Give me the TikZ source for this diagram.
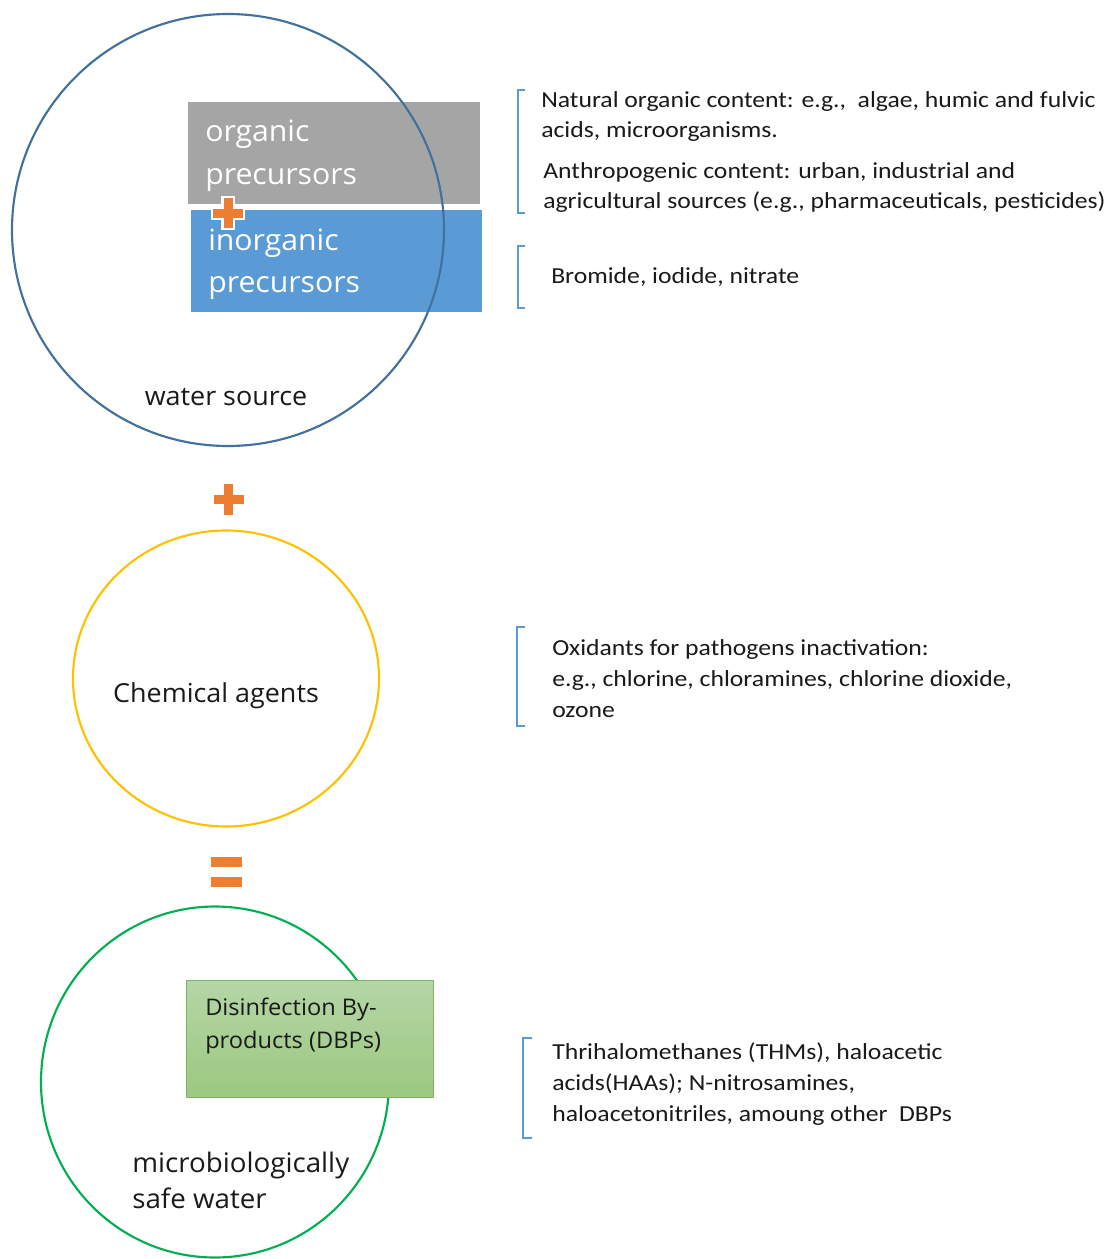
\documentclass[tikz,border=0pt]{standalone}
\usepackage{fontspec}
\usetikzlibrary{calc,shapes.geometric}
\setmainfont{Carlito}[FakeStretch=1.12]
\newfontfamily\seg{Open Sans}[FakeStretch=1.03]
\definecolor{cblue}{HTML}{41719C}
\definecolor{cgold}{HTML}{FFC000}
\definecolor{cgreen}{HTML}{00B050}
\definecolor{boxgray}{HTML}{A5A5A5}
\definecolor{boxblue}{HTML}{5B9BD5}
\definecolor{corange}{HTML}{ED7D31}
\definecolor{brk}{HTML}{5B9BD5}
\definecolor{gtop}{HTML}{B4D6A6}
\definecolor{gbot}{HTML}{9CC87F}
\definecolor{gborder}{HTML}{7EB462}
\definecolor{txt}{HTML}{1A1A1A}
\begin{document}
\begin{tikzpicture}[x=0.75pt,y=-0.75pt,
  rtext/.style={anchor=base west,inner sep=0pt,text=txt,font=\fontsize{17.2}{20}\selectfont},
  ctext/.style={anchor=base,inner sep=0pt,text=txt,font=\seg\fontsize{19.6}{23}\selectfont},
  btext/.style={anchor=base west,inner sep=0pt,text=white,font=\seg\fontsize{22}{25}\selectfont},
  dtext/.style={anchor=base west,inner sep=0pt,text=txt,font=\seg\fontsize{17.2}{20}\selectfont},
  bracket/.style={draw=brk,line width=0.9pt},
  ring/.style={line width=1.6pt}]
\path[use as bounding box,fill=white] (0,0) rectangle (1112,1259);

% boxes in water source
\node[fill=boxgray,minimum width=292*0.75pt,minimum height=102*0.75pt,inner sep=0pt,anchor=north west] (org) at (188,102) {};
\node[fill=boxblue,minimum width=291*0.75pt,minimum height=102*0.75pt,inner sep=0pt,anchor=north west] (inorg) at (191,210) {};
\node[btext] (org1) at (205,142) {organic};
\node[btext] (org2) at (205,185) {precursors};
\node[btext] (inorg1) at (208,250) {inorganic};
\node[btext] (inorg2) at (208,292) {precursors};

% water source circle
\node[draw=cblue,ring,circle,minimum size=432*0.75pt,inner sep=0pt] (ws) at (228,230) {};
\node[ctext] (wslabel) at (226,405) {water source};

% small plus
\coordinate (sp) at (228,213);
\draw[white,line width=14*0.75pt] ($(sp)+(-17,0)$) -- ($(sp)+(17,0)$) ($(sp)+(0,-17)$) -- ($(sp)+(0,17)$);
\draw[corange,line width=9*0.75pt] ($(sp)+(-15,0)$) -- ($(sp)+(15,0)$) ($(sp)+(0,-15)$) -- ($(sp)+(0,15)$);

% big plus
\coordinate (bp) at (228.5,499.5);
\draw[corange,line width=8.5*0.75pt] ($(bp)+(-15,0)$) -- ($(bp)+(15,0)$) ($(bp)+(0,-15.5)$) -- ($(bp)+(0,15.5)$);

% chemical circle
\node[draw=cgold,ring,ellipse,minimum width=306*0.75pt,minimum height=296*0.75pt,inner sep=0pt] (chem) at (226,678.5) {};
\node[ctext] (chemlabel) at (216,702) {Chemical agents};

% equals
\fill[corange] (211,857) rectangle (242,867);
\fill[corange] (211,877) rectangle (242,887);

% safe water circle
\node[draw=cgreen,ring,ellipse,minimum width=348*0.75pt,minimum height=351*0.75pt,inner sep=0pt] (safe) at (215,1082) {};
\node[draw=gborder,line width=0.8pt,top color=gtop,bottom color=gbot,minimum width=247*0.75pt,minimum height=117*0.75pt,inner sep=0pt,anchor=north west] (dbp) at (186,980) {};
\node[dtext] (dbp1) at (205,1015) {Disinfection By-};
\node[dtext] (dbp2) at (205,1048) {products (DBPs)};
\node[ctext,anchor=base west,font=\seg\fontsize{20.2}{23}\selectfont] (safe1) at (132,1172) {microbiologically};
\node[ctext,anchor=base west,font=\seg\fontsize{20.2}{23}\selectfont] (safe2) at (132,1208) {safe water};

% brackets
\draw[bracket] (525,90) -- (518,90) -- (518,213) -- (525,213);
\draw[bracket] (525,246) -- (518,246) -- (518,308) -- (525,308);
\draw[bracket] (525,627) -- (517,627) -- (517,726) -- (525,726);
\draw[bracket] (532,1038) -- (523,1038) -- (523,1138) -- (532,1138);

% right texts
\node[rtext] (t1) at (541,108) {Natural organic content: e.g.,~ algae, humic and fulvic};
\node[rtext] (t2) at (541,138) {acids, microorganisms.};
\node[rtext] (t3) at (543,178) {Anthropogenic content: urban, industrial and};
\node[rtext] (t4) at (543,208) {agricultural sources (e.g., pharmaceuticals, pesticides)};
\node[rtext] (t5) at (551,283) {Bromide, iodide, nitrate};
\node[rtext] (t6) at (552,655) {Oxidants for pathogens inactivation:};
\node[rtext] (t7) at (552,686) {e.g., chlorine, chloramines, chlorine dioxide,};
\node[rtext] (t8) at (552,717) {ozone};
\node[rtext] (t9) at (552,1059) {Thrihalomethanes (THMs), haloacetic};
\node[rtext] (t10) at (552,1090) {acids(HAAs); N-nitrosamines,};
\node[rtext] (t11) at (552,1121) {haloacetonitriles, amoung other~ DBPs};
\end{tikzpicture}
\end{document}
